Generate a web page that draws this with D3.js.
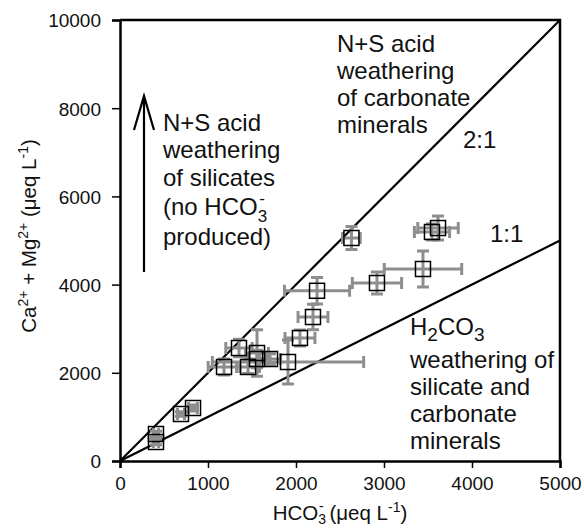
<!DOCTYPE html>
<html>
<head>
<meta charset="utf-8">
<script src="https://cdn.jsdelivr.net/npm/d3@7"></script>
<style>
  body { margin: 0; background: #fff; }
  svg text { font-family: Arial, "Liberation Sans", sans-serif; fill: #111; }
</style>
</head>
<body>
<div id="chart"></div>
<script>
// values (ueq/L)
var hco3 =    [409, 409, 693, 830, 1182, 1352, 1455, 1557, 1557, 1705, 1909, 2045, 2193, 2239, 2630, 2920, 3443, 3545, 3614];
var camg =    [612, 431, 1066, 1202, 2132, 2562, 2132, 2449, 2313, 2313, 2245, 2789, 3265, 3860, 5057, 4036, 4354, 5193, 5283];
var hco3Err = [30, 30, 40, 50, 180, 150, 130, 130, 100, 120, 860, 170, 170, 370, 100, 280, 440, 200, 230];
var camgErr = [60, 60, 50, 70, 180, 200, 150, 530, 200, 120, 500, 180, 290, 300, 260, 250, 410, 180, 270];
var xTicks = [0, 1000, 2000, 3000, 4000, 5000];
var yTicks = [0, 2000, 4000, 6000, 8000, 10000];
var ratios = [2, 1];

var W = 584, H = 530;
var mL = 120, mR = 560, mT = 20, mB = 461;

var svg = d3.select("#chart").append("svg").attr("width", W).attr("height", H);

var x = d3.scaleLinear().domain([0, 5000]).range([mL, mR]);
var y = d3.scaleLinear().domain([0, 10000]).range([mB, mT]);

var pts = hco3.map(function (v, i) {
    return { x: v, y: camg[i], ex: hco3Err[i], ey: camgErr[i] };
});

// frame (top + right)
svg.append("path")
    .attr("d", "M" + mL + "," + mT + "H" + mR + "V" + mB)
    .attr("fill", "none").attr("stroke", "#000").attr("stroke-width", 2.5);

// ratio lines
var g = svg.append("g");
ratios.forEach(function (r) {
    var xe = Math.min(5000, 10000 / r);
    g.append("line")
        .attr("x1", x(0)).attr("y1", y(0))
        .attr("x2", x(xe)).attr("y2", y(xe * r))
        .attr("stroke", "#000").attr("stroke-width", 2.2);
});

// error bars
var cap = 6;
var eb = svg.append("g").attr("stroke", "#8e8e8e").attr("stroke-width", 3).attr("fill", "none");
pts.forEach(function (d) {
    var cx = x(d.x), cy = y(d.y);
    var x0 = x(d.x - d.ex), x1 = x(d.x + d.ex), y0 = y(d.y - d.ey), y1 = y(d.y + d.ey);
    eb.append("path").attr("d",
        "M" + x0 + "," + cy + "H" + x1 +
        "M" + x0 + "," + (cy - cap) + "V" + (cy + cap) +
        "M" + x1 + "," + (cy - cap) + "V" + (cy + cap) +
        "M" + cx + "," + y0 + "V" + y1 +
        "M" + (cx - cap) + "," + y0 + "H" + (cx + cap) +
        "M" + (cx - cap) + "," + y1 + "H" + (cx + cap));
});

// markers
svg.append("g").selectAll("rect").data(pts).join("rect")
    .attr("x", function (d) { return x(d.x) - 7.5; })
    .attr("y", function (d) { return y(d.y) - 7.5; })
    .attr("width", 15).attr("height", 15)
    .attr("fill", "none").attr("stroke", "#000").attr("stroke-width", 1.5);

// axes
var xAxis = svg.append("g").attr("transform", "translate(0," + mB + ")")
    .call(d3.axisBottom(x).tickValues(xTicks).tickSize(7).tickPadding(9).tickFormat(d3.format("d")));
var yAxis = svg.append("g").attr("transform", "translate(" + mL + ",0)")
    .call(d3.axisLeft(y).tickValues(yTicks).tickSize(8).tickPadding(11).tickFormat(d3.format("d")));
[xAxis, yAxis].forEach(function (a) {
    a.select(".domain").attr("stroke", "#000").attr("stroke-width", 2.5);
    a.selectAll(".tick line").attr("stroke", "#000").attr("stroke-width", 1.5);
    a.selectAll(".tick text").attr("font-size", 19).attr("font-family", "Arial, 'Liberation Sans', sans-serif").attr("fill", "#111");
});
yAxis.selectAll(".tick text").attr("dy", "0.36em");

// axis titles
var xt = svg.append("text").attr("x", (mL + mR) / 2).attr("y", 520)
    .attr("text-anchor", "middle").attr("font-size", 20.5);
xt.append("tspan").text("HCO");
xt.append("tspan").attr("font-size", 14).attr("dy", 4).text("3");
xt.append("tspan").attr("font-size", 14).attr("dy", -13).attr("dx", -7).text("-");
xt.append("tspan").attr("dy", 9).text(" (\u03bceq L");
xt.append("tspan").attr("font-size", 14).attr("dy", -8).text("-1");
xt.append("tspan").attr("dy", 8).text(")");

var yt = svg.append("text").attr("transform", "translate(36," + 236 + ") rotate(-90)")
    .attr("text-anchor", "middle").attr("font-size", 20.5);
yt.append("tspan").text("Ca");
yt.append("tspan").attr("font-size", 14).attr("dy", -8).text("2+");
yt.append("tspan").attr("dy", 8).text(" + Mg");
yt.append("tspan").attr("font-size", 14).attr("dy", -8).text("2+");
yt.append("tspan").attr("dy", 8).text(" (\u03bceq L");
yt.append("tspan").attr("font-size", 14).attr("dy", -8).text("-1");
yt.append("tspan").attr("dy", 8).text(")");

// annotations
function block(x0, ys, lines) {
    lines.forEach(function (l, i) {
        svg.append("text").attr("x", x0).attr("y", ys[i]).attr("font-size", 24).text(l);
    });
}
block(337, [52, 79, 106, 133], ["N+S acid", "weathering", "of carbonate", "minerals"]);
block(163, [131, 158, 186], ["N+S acid", "weathering", "of silicates"]);
var t4 = svg.append("text").attr("x", 163).attr("y", 215).attr("font-size", 24);
t4.append("tspan").text("(no HCO");
t4.append("tspan").attr("font-size", 17).attr("dy", 7).text("3");
t4.append("tspan").attr("font-size", 17).attr("dy", -18).attr("dx", -8).text("-");
block(163, [245], ["produced)"]);

var h2 = svg.append("text").attr("x", 410).attr("y", 335).attr("font-size", 24);
h2.append("tspan").text("H");
h2.append("tspan").attr("font-size", 19).attr("dy", 6).text("2");
h2.append("tspan").attr("dy", -6).text("CO");
h2.append("tspan").attr("font-size", 19).attr("dy", 6).text("3");
block(410, [368, 395, 422, 449], ["weathering of", "silicate and", "carbonate", "minerals"]);

svg.append("text").attr("x", 463).attr("y", 148).attr("font-size", 24).text("2:1");
svg.append("text").attr("x", 490).attr("y", 242).attr("font-size", 24).text("1:1");

// arrow
svg.append("path").attr("d", "M144,272V96M134,130L144,96L154,130")
    .attr("fill", "none").attr("stroke", "#000").attr("stroke-width", 2.2);
</script>
</body>
</html>
